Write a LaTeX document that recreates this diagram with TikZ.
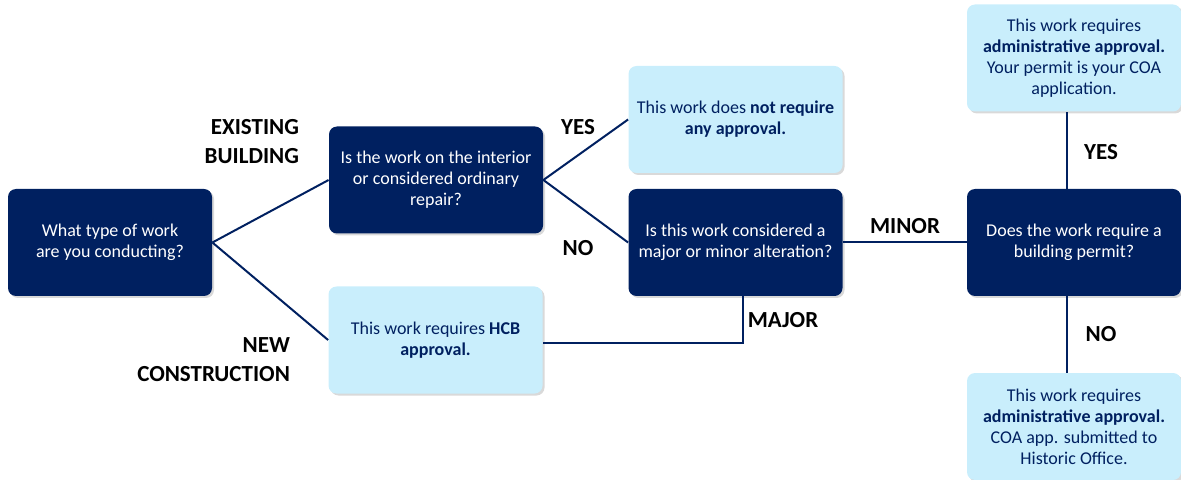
\documentclass[tikz,border=0pt]{standalone}
\usepackage{fontspec}
\setmainfont{Carlito}
\usetikzlibrary{shadows}
\definecolor{navy}{HTML}{002060}
\definecolor{paleblue}{HTML}{C9EEFC}
\tikzset{
  darkbox/.style={fill=navy, text=white, rounded corners=4pt,
    minimum width=107pt, minimum height=53.5pt, inner sep=2pt, align=center,
    font=\fontsize{9}{10.5}\selectfont,
    drop shadow={shadow xshift=1pt, shadow yshift=-1pt, opacity=0.3}},
  lightbox/.style={darkbox, fill=paleblue, text=navy},
  answer/.style={font=\fontsize{11.5}{14.5}\selectfont\bfseries, align=right},
  link/.style={draw=navy, line width=1pt},
}
\begin{document}
\begin{tikzpicture}[x=0.5pt, y=-0.5pt]
\useasboundingbox (0,0) rectangle (1181,480);

% question boxes
\node[darkbox, minimum width=102pt] (kind) at (110,242.5) {What type of work\\are you conducting?};
\node[darkbox] (interior) at (436,180) {Is the work on the interior\\or considered ordinary\\repair?};
\node[darkbox] (alter) at (735.5,242.5) {Is this work considered a\\major or minor alteration?};
\node[darkbox] (permit) at (1074,242.5) {Does the work require a\\building permit?};

% answer boxes
\node[lightbox] (none) at (735.5,119.5) {This work does \textbf{not require}\\\textbf{any approval.}};
\node[lightbox] (hcb) at (435.5,340) {This work requires \textbf{HCB}\\\textbf{approval.}};
\node[lightbox] (coa) at (1074,58) {This work requires\\\textbf{administrative approval.}\\Your permit is your COA\\application.};
\node[lightbox] (office) at (1074,426.5) {This work requires\\\textbf{administrative approval.}\\COA app. submitted to\\Historic Office.};

% connectors
\draw[link] (kind.east) -- (interior.west);
\draw[link] (kind.east) -- (hcb.west);
\draw[link] (interior.east) -- (none.west);
\draw[link] (interior.east) -- (alter.west);
\draw[link] (alter.east) -- (permit.west);
\coordinate (bend) at (743,343);
\draw[link] (alter.south -| bend) -- (bend) -- (hcb.east |- bend);
\draw[link] (permit.north -| 1067,0) -- (coa.south -| 1067,0);
\draw[link] (permit.south -| 1067,0) -- (office.north -| 1067,0);

% labels
\node[answer, anchor=east] (existing) at (306,142) {EXISTING\\BUILDING};
\node[answer, anchor=east] (new) at (297,360) {NEW\\CONSTRUCTION};
\node[answer] (yes1) at (578,127) {YES};
\node[answer] (no1) at (578,248) {NO};
\node[answer] (minor) at (905,226) {MINOR};
\node[answer] (major) at (783,320) {MAJOR};
\node[answer] (yes2) at (1101,152) {YES};
\node[answer] (no2) at (1101,334) {NO};
\end{tikzpicture}
\end{document}
